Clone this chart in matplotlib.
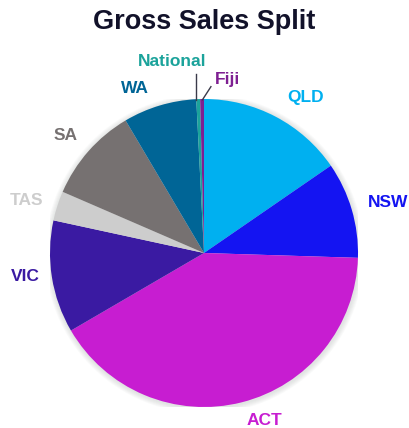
import matplotlib.pyplot as plt
from matplotlib.patches import Circle

# slices, clockwise from 12 o'clock
regions = ['QLD', 'NSW', 'ACT', 'VIC', 'TAS', 'SA', 'WA', 'National', 'Fiji']
share = [15.4, 10.1, 41.1, 11.8, 3.1, 10.0, 7.7, 0.4, 0.4]
colors = ['#00B0F0', '#1414F2', '#C71DD1', '#3A1AA2', '#CDCDCD',
          '#767171', '#006596', '#1BA39B', '#7E1F92']

# label placement (axes data units, pie radius = 1)
label_pos = {
    'QLD': (0.66, 1.01), 'NSW': (1.195, 0.33), 'ACT': (0.39, -1.085),
    'VIC': (-1.16, -0.155), 'TAS': (-1.15, 0.34), 'SA': (-0.90, 0.76),
    'WA': (-0.45, 1.07), 'National': (-0.21, 1.245), 'Fiji': (0.15, 1.125),
}

W, H = 409, 428
fig = plt.figure(figsize=(W / 100, H / 100), dpi=100)
cx, cy, r = 204, 253, 154
ax = fig.add_axes([(cx - r) / W, (H - cy - r) / H, 2 * r / W, 2 * r / H])

# soft shadow around the pie
for k in range(6):
    ax.add_patch(Circle((0.004, -0.006), 1.0 + 0.006 * (k + 1), color='#9aa39f',
                        alpha=0.05, lw=0, zorder=0))

wedges, _ = ax.pie(share, colors=colors, startangle=90, counterclock=False,
                   radius=1, wedgeprops=dict(linewidth=0, zorder=2))
ax.set_xlim(-1, 1)
ax.set_ylim(-1, 1)
ax.set_aspect('equal')
ax.axis('off')

for name, c in zip(regions, colors):
    x, y = label_pos[name]
    ax.text(x, y, name, color=c, fontsize=12.5, fontweight='bold',
            ha='center', va='center', family='Liberation Sans', clip_on=False)

# leader lines for the two thin slices
ax.plot([-0.055, -0.055], [1.165, 0.995], color='#3a3a4a', lw=1, clip_on=False)
ax.plot([0.045, -0.01], [1.08, 0.995], color='#3a3a4a', lw=1, clip_on=False)

fig.text(cx / W, 1 - 22 / H, 'Gross Sales Split', ha='center', va='center',
         fontsize=19.5, fontweight='bold', color='#12122a', family='Liberation Sans')

fig.savefig('out.png', dpi=100)
